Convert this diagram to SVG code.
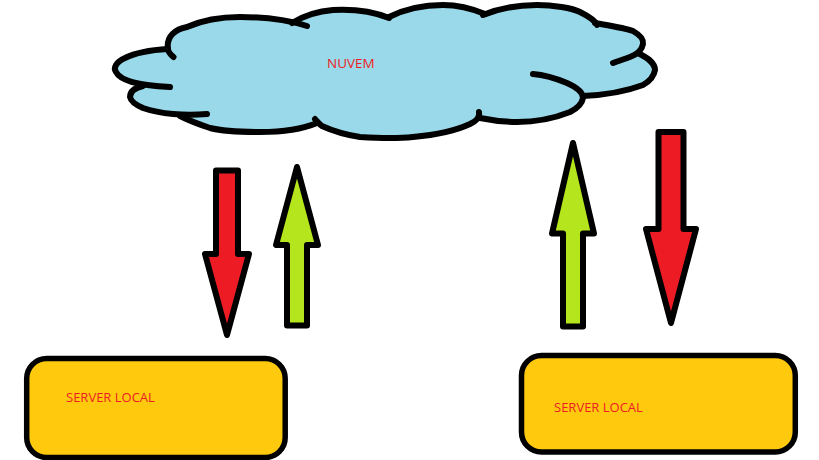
<svg xmlns="http://www.w3.org/2000/svg" width="819" height="460" viewBox="0 0 819 460">
<style>
.o{fill:none;stroke:#000;stroke-width:6;stroke-linecap:round;stroke-linejoin:round}
.a{stroke:#000;stroke-width:6;stroke-linejoin:round}
.r{fill:#ed1c24}.g{fill:#b5e61d}
.s{fill:#ffc90e;stroke:#000;stroke-width:5.500}
.t{font-family:"Open Sans","Liberation Sans",sans-serif;font-size:13px;fill:#ed1c24}
</style>
<rect width="819" height="460" fill="#fff"/>
<g id="cloud">
<path fill="#99d9ea" d="M168 49C166 36 176 29 187 27C205 19 225 17 240 17C258 17 278 19 292 23C305 15 320 11 333 10C352 9 372 11 389 17C405 9 425 5 443 5C458 5 473 9 484 14C500 8 520 5 537 5C553 5 572 8 580 12C586 16 592 20 596 24C612 26 625 28 633 31C640 35 644 39 643 44C642 48 640 51 638 53C648 58 655 63 655 70C654 76 650 81 643 85C627 91 605 95 583 96C583 104 578 108 570 112C555 118 535 122 517 122C503 122 490 120 480 118C478 121 474 124 470 124C455 131 435 135 413 137C395 139 375 138 360 137C345 135 330 131 320 125C305 129 285 132 260 132C240 132 222 131 210 128C198 124 188 120 180 116C165 114 150 112 143 108C134 105 129 100 130 96C131 92 136 88 143 86C133 84 125 82 121 79C115 75 113 70 116 66C122 58 135 53 168 49Z"/>
<path class="o" d="M173.500 57C170 54 168 52 168 49C150 50 135 53 125 58C116 62 113 68 116 72C120 80 135 85 170 87"/>
<path class="o" d="M168 49C166 36 176 29 187 27C205 19 225 17 240 17C258 17 285 19 307 26"/>
<path class="o" d="M143 86C134 88 130 92 130 97C131 102 136 105 143 108C160 114 185 116 207 114"/>
<path class="o" d="M180 116C188 120 198 124 210 128C222 131 240 132 260 132C285 132 305 128 317 123"/>
<path class="o" d="M315 119C318 122 320 125 322 126C335 132 347 135 360 137C375 138 395 139 413 137C435 135 455 131 470 124C476 121 480 118 479 112"/>
<path class="o" d="M292 23C305 15 320 11 333 10C352 9 372 11 389 18"/>
<path class="o" d="M389 17C405 9 425 5 443 5C458 5 473 9 485 14"/>
<path class="o" d="M483 15C500 8 520 5 537 5C553 5 572 8 580 12C588 16 595 20 597 25"/>
<path class="o" d="M595 23C612 26 625 28 633 31C640 35 644 39 643 44C642 50 638 54 630 57C625 59 618 61 613 63"/>
<path class="o" d="M638 53C648 58 655 63 655 70C654 76 650 81 643 85C627 91 605 95 583 96"/>
<path class="o" d="M533 74C545 75 555 78 567 83C576 87 583 92 583 98C582 104 578 108 570 112C555 118 535 122 517 122C503 122 490 120 480 118"/>
<text class="t" x="327" y="68" style="font-size:13.500px">NUVEM</text>
</g>
<g id="connectors">
<path class="a r" d="M216 170.500H238V254H249L227 335L205 254H216Z"/>
<path class="a g" d="M287 325.500H307V245H318L297 167L276 245H287Z"/>
<path class="a g" d="M563 326.500H583V233.500H594L573 143L552 233.500H563Z"/>
<path class="a r" d="M658.500 132H683.500V229H696L671 323L646 229H658.500Z"/>
</g>
<g id="server-left"><rect class="s" x="26.700" y="358.500" width="258.500" height="99" rx="20"/><text class="t" x="66" y="402">SERVER LOCAL</text></g>
<g id="server-right"><rect class="s" x="521.500" y="355.500" width="273.800" height="96.500" rx="20"/><text class="t" x="554" y="412">SERVER LOCAL</text></g>
</svg>
